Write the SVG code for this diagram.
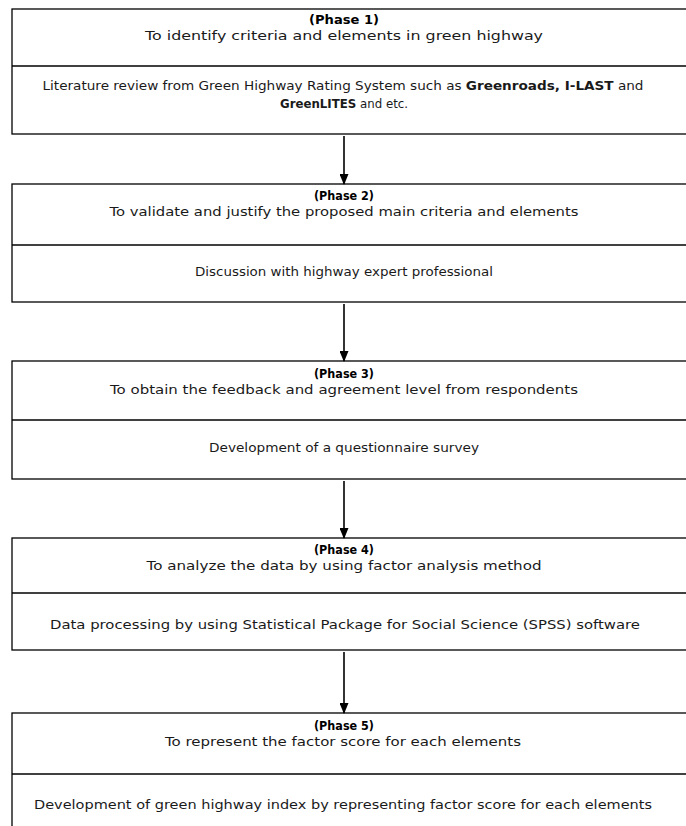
<svg xmlns="http://www.w3.org/2000/svg" width="686" height="826" viewBox="0 0 686 826">
<defs>
<style>
.box{fill:#fff;stroke:#000;stroke-width:1.3}
.div{stroke:#000;stroke-width:1.3}
text{font-family:"DejaVu Sans","Liberation Sans",sans-serif;font-size:12.5px;fill:#1a1a1a;text-anchor:middle}
.t{font-weight:bold;fill:#000;font-size:12.5px}
.b{font-weight:bold}
.con{stroke:#000;stroke-width:1.6;fill:none}
</style>
<marker id="arr" markerWidth="11" markerHeight="9" refX="10" refY="4.5" orient="auto" markerUnits="userSpaceOnUse">
<path d="M0,0 L11,4.5 L0,9 Z" fill="#000"/>
</marker>
</defs>
<g id="phase1">
<rect class="box" x="12" y="9" width="680" height="125"/>
<line class="div" x1="12" y1="66" x2="692" y2="66"/>
<text class="t" x="344" y="24" textLength="70" lengthAdjust="spacingAndGlyphs">(Phase  1)</text>
<text x="344" y="40" textLength="398" lengthAdjust="spacingAndGlyphs">To identify criteria and elements in green highway</text>
<text x="343" y="90" textLength="601" lengthAdjust="spacingAndGlyphs">Literature review from Green Highway Rating System such as <tspan class="b">Greenroads, I-LAST</tspan> and</text>
<text x="344" y="108" textLength="128" lengthAdjust="spacingAndGlyphs"><tspan class="b">GreenLITES</tspan> and etc.</text>
</g>
<g id="phase2">
<rect class="box" x="12" y="184" width="680" height="118"/>
<line class="div" x1="12" y1="245" x2="692" y2="245"/>
<text class="t" x="344" y="200" textLength="60" lengthAdjust="spacingAndGlyphs">(Phase 2)</text>
<text x="344" y="216" textLength="469" lengthAdjust="spacingAndGlyphs">To validate and justify the proposed main criteria and elements</text>
<text x="344" y="276" textLength="298" lengthAdjust="spacingAndGlyphs">Discussion with highway expert professional</text>
</g>
<g id="phase3">
<rect class="box" x="12" y="361" width="680" height="118"/>
<line class="div" x1="12" y1="420" x2="692" y2="420"/>
<text class="t" x="344" y="378" textLength="60" lengthAdjust="spacingAndGlyphs">(Phase 3)</text>
<text x="344" y="394" textLength="468" lengthAdjust="spacingAndGlyphs">To obtain the feedback and agreement level from respondents</text>
<text x="344" y="452" textLength="270" lengthAdjust="spacingAndGlyphs">Development of a questionnaire survey</text>
</g>
<g id="phase4">
<rect class="box" x="12" y="538" width="680" height="112"/>
<line class="div" x1="12" y1="593" x2="692" y2="593"/>
<text class="t" x="344" y="554" textLength="60" lengthAdjust="spacingAndGlyphs">(Phase 4)</text>
<text x="344" y="570" textLength="395" lengthAdjust="spacingAndGlyphs">To analyze the data by using factor analysis method</text>
<text x="345" y="629" textLength="590" lengthAdjust="spacingAndGlyphs">Data processing by using  Statistical Package for Social Science (SPSS) software</text>
</g>
<g id="phase5">
<rect class="box" x="12" y="713" width="680" height="130"/>
<line class="div" x1="12" y1="774" x2="692" y2="774"/>
<text class="t" x="344" y="730" textLength="60" lengthAdjust="spacingAndGlyphs">(Phase 5)</text>
<text x="343" y="746" textLength="356" lengthAdjust="spacingAndGlyphs">To represent the factor score for each elements</text>
<text x="343" y="809" textLength="618" lengthAdjust="spacingAndGlyphs">Development of green highway index by representing factor score for each elements</text>
</g>
<g id="connectors">
<line class="con" x1="344" y1="136" x2="344" y2="184" marker-end="url(#arr)"/>
<line class="con" x1="344" y1="304" x2="344" y2="361" marker-end="url(#arr)"/>
<line class="con" x1="344" y1="481" x2="344" y2="538" marker-end="url(#arr)"/>
<line class="con" x1="344" y1="652" x2="344" y2="713" marker-end="url(#arr)"/>
</g>
</svg>
